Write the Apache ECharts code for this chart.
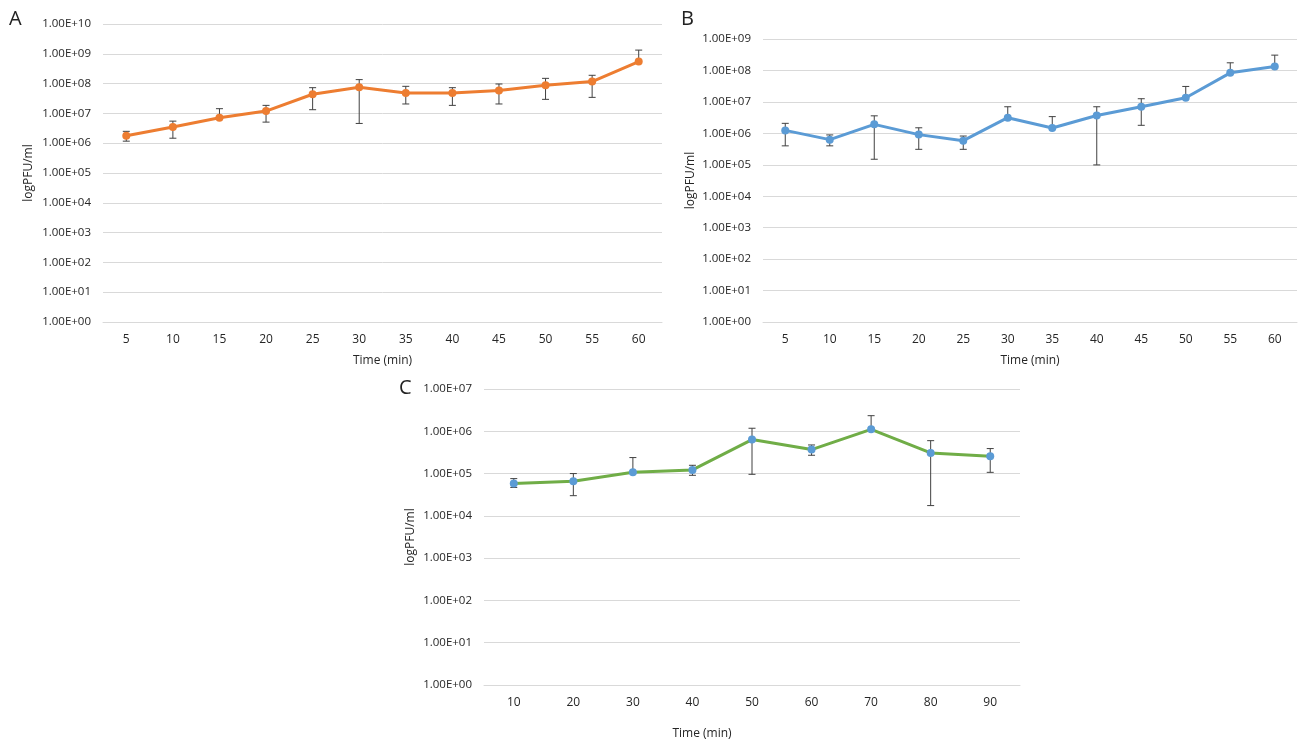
<!DOCTYPE html>
<html>
<head>
<meta charset="utf-8">
<script src="https://cdn.jsdelivr.net/npm/echarts@6/dist/echarts.min.js"></script>
<style>
  html, body { margin: 0; padding: 0; background: #fff; }
  #chart { width: 1299px; height: 741px; }
</style>
</head>
<body>
<div id="chart"></div>
<script>
// panel A: 5..60 min
const timeA = ['5', '10', '15', '20', '25', '30', '35', '40', '45', '50', '55', '60'];
const meanA = [1.77e6, 3.5e6, 7.1e6, 1.2e7, 4.4e7, 7.5e7, 4.85e7, 4.85e7, 5.9e7, 8.8e7, 1.17e8, 5.5e8];
const highA = [2.5e6, 5.5e6, 1.44e7, 1.86e7, 7.3e7, 1.36e8, 8.1e7, 7.3e7, 9.7e7, 1.5e8, 1.9e8, 1.33e9];
const lowA = [1.17e6, 1.47e6, null, 5.1e6, 1.33e7, 4.6e6, 2.07e7, 1.86e7, 2.07e7, 2.96e7, 3.45e7, null];

// panel B: 5..60 min
const timeB = ['5', '10', '15', '20', '25', '30', '35', '40', '45', '50', '55', '60'];
const meanB = [1.24e6, 6.3e5, 1.93e6, 9.1e5, 5.85e5, 3.14e6, 1.48e6, 3.7e6, 7.0e6, 1.36e7, 8.4e7, 1.34e8];
const highB = [2.08e6, 8.9e5, 3.6e6, 1.5e6, 8.2e5, 7.0e6, 3.4e6, 7.0e6, 1.26e7, 3.1e7, 1.75e8, 3.07e8];
const lowB = [4.0e5, 4.0e5, 1.5e5, 3.1e5, 3.1e5, null, null, 9.9e4, 1.8e6, null, null, null];

// panel C: 10..90 min
const timeC = ['10', '20', '30', '40', '50', '60', '70', '80', '90'];
const meanC = [5.8e4, 6.6e4, 1.07e5, 1.22e5, 6.36e5, 3.69e5, 1.11e6, 3.08e5, 2.57e5];
const highC = [7.6e4, 1.0e5, 2.39e5, 1.57e5, 1.18e6, 4.75e5, 2.34e6, 6.0e5, 3.9e5];
const lowC = [4.7e4, 3.0e4, null, 9.1e4, 9.6e4, 2.71e5, null, 1.75e4, 1.07e5];

const FONT = '"Open Sans", "Liberation Sans", sans-serif';
const TEXT = '#262626';
const GRIDLINE = '#d9d9d9';
const means = [meanA, meanB, meanC];

function sciLabel(v) {
  const e = Math.round(Math.log10(v));
  return '1.00E+' + String(e).padStart(2, '0');
}

function yAxisFor(gridIndex, max, nameGap) {
  return {
    gridIndex,
    type: 'log',
    logBase: 10,
    min: 1,
    max,
    interval: 1,
    name: 'logPFU/ml',
    nameLocation: 'middle',
    nameRotate: 90,
    nameGap,
    nameTextStyle: { color: TEXT, fontSize: 12, fontFamily: FONT },
    axisLine: { show: false },
    axisTick: { show: false },
    axisLabel: { formatter: sciLabel, color: TEXT, fontSize: 11.5, fontFamily: FONT, margin: 12 },
    splitLine: { lineStyle: { color: GRIDLINE, width: 1 } },
  };
}

function xAxisFor(gridIndex, data, nameGap, extraName) {
  return {
    gridIndex,
    type: 'category',
    data,
    boundaryGap: true,
    name: 'Time (min)',
    nameLocation: 'middle',
    nameGap,
    nameTextStyle: Object.assign({ color: TEXT, fontSize: 12, fontFamily: FONT }, extraName || {}),
    axisLine: { show: true, lineStyle: { color: GRIDLINE } },
    axisTick: { show: false },
    axisLabel: { color: TEXT, fontSize: 12, fontFamily: FONT, margin: 12 },
    splitLine: { show: false },
  };
}

function lineSeries(idx, values, lineColor, markerColor) {
  return {
    type: 'line',
    xAxisIndex: idx,
    yAxisIndex: idx,
    data: values,
    symbol: 'circle',
    symbolSize: 8,
    z: 3,
    lineStyle: { color: lineColor, width: 3 },
    itemStyle: { color: markerColor },
  };
}

function errorSeries(idx, lows, highs) {
  return {
    type: 'custom',
    xAxisIndex: idx,
    yAxisIndex: idx,
    z: 2,
    silent: true,
    data: highs.map((h, i) => [i, h]),
    renderItem: (params, api) => {
      const i = api.value(0);
      const hi = api.coord([i, highs[i]]);
      const lowVal = lows[i];
      const mid = api.coord([i, means[idx][i]]);
      const lo = lowVal == null ? mid : api.coord([i, lowVal]);
      const cap = 3.5;
      const style = { stroke: '#404040', lineWidth: 1 };
      const children = [
        { type: 'line', shape: { x1: hi[0], y1: hi[1], x2: lo[0], y2: lo[1] }, style },
        { type: 'line', shape: { x1: hi[0] - cap, y1: hi[1], x2: hi[0] + cap, y2: hi[1] }, style },
      ];
      if (lowVal != null) {
        children.push({ type: 'line', shape: { x1: lo[0] - cap, y1: lo[1], x2: lo[0] + cap, y2: lo[1] }, style });
      }
      return { type: 'group', children };
    },
  };
}

const chart = echarts.init(document.getElementById('chart'));
chart.setOption({
  backgroundColor: '#fff',
  animation: false,
  grid: [
    { left: 103, top: 24, width: 559, height: 298 },
    { left: 763, top: 39, width: 534, height: 283 },
    { left: 484, top: 389, width: 536, height: 296 },
  ],
  xAxis: [
    xAxisFor(0, timeA, 33),
    xAxisFor(1, timeB, 33),
    xAxisFor(2, timeC, 43, { padding: [0, 100, 0, 0] }),
  ],
  yAxis: [
    yAxisFor(0, 1e10, 68),
    yAxisFor(1, 1e9, 66),
    yAxisFor(2, 1e7, 67),
  ],
  graphic: [
    { type: 'text', left: 9, top: 9, style: { text: 'A', fontSize: 20, fontFamily: FONT, fill: '#222' } },
    { type: 'text', left: 681, top: 9, style: { text: 'B', fontSize: 20, fontFamily: FONT, fill: '#222' } },
    { type: 'text', left: 399, top: 378, style: { text: 'C', fontSize: 20, fontFamily: FONT, fill: '#222' } },
  ],
  series: [
    errorSeries(0, lowA, highA),
    lineSeries(0, meanA, '#ED7D31', '#ED7D31'),
    errorSeries(1, lowB, highB),
    lineSeries(1, meanB, '#5B9BD5', '#5B9BD5'),
    errorSeries(2, lowC, highC),
    lineSeries(2, meanC, '#70AD47', '#5B9BD5'),
  ],
});
</script>
</body>
</html>
